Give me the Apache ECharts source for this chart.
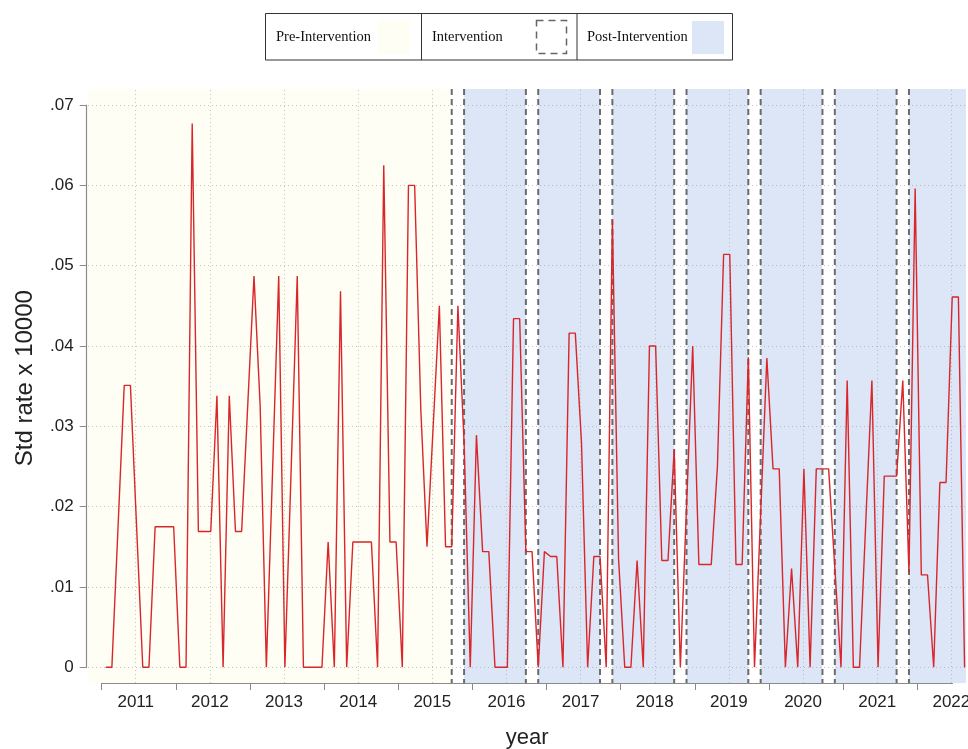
<!DOCTYPE html>
<html><head><meta charset="utf-8">
<script src="https://cdn.jsdelivr.net/npm/echarts@6/dist/echarts.min.js"></script>
<style>html,body{margin:0;padding:0;background:#fff}#c{width:968px;height:749px}</style>
</head><body><div id="c"></div>
<script>
// ---------------- data ----------------
const years = ['2011','2012','2013','2014','2015','2016','2017','2018','2019','2020','2021','2022'];
const yTicks = [0, 0.01, 0.02, 0.03, 0.04, 0.05, 0.06, 0.07];
// monthly standardised rate (x 10000), Jan .. Dec
const rate2011 = [0, 0, 0.0175, 0.0351, 0.0351, 0.0175, 0, 0, 0.0175, 0.0175, 0.0175, 0.0175];
const rate2012 = [0, 0, 0.0677, 0.0169, 0.0169, 0.0169, 0.0338, 0, 0.0338, 0.0169, 0.0169, 0.0328];
const rate2013 = [0.0487, 0.0325, 0, 0.0243, 0.0487, 0, 0.0243, 0.0487, 0, 0, 0, 0];
const rate2014 = [0.0156, 0, 0.0468, 0, 0.0156, 0.0156, 0.0156, 0.0156, 0, 0.0625, 0.0156, 0.0156];
const rate2015 = [0, 0.0600, 0.0600, 0.032, 0.0150, 0.030, 0.0450, 0.0150, 0.0150, 0.0450, 0.028, 0];
const rate2016 = [0.0289, 0.0144, 0.0144, 0, 0, 0, 0.0434, 0.0434, 0.0144, 0.0144, 0, 0.0144];
const rate2017 = [0.0138, 0.0138, 0, 0.0416, 0.0416, 0.028, 0, 0.0138, 0.0138, 0, 0.0557, 0.0135];
const rate2018 = [0, 0, 0.0133, 0, 0.0400, 0.0400, 0.0133, 0.0133, 0.0271, 0, 0.020, 0.0400];
const rate2019 = [0.0128, 0.0128, 0.0128, 0.025, 0.0514, 0.0514, 0.0128, 0.0128, 0.0386, 0, 0.0192, 0.0385];
const rate2020 = [0.0247, 0.0247, 0, 0.0123, 0, 0.0247, 0, 0.0247, 0.0247, 0.0247, 0.0124, 0];
const rate2021 = [0.0357, 0, 0, 0.0179, 0.0357, 0, 0.0238, 0.0238, 0.0238, 0.0357, 0.0118, 0.0596];
const rate2022 = [0.0115, 0.0115, 0, 0.0230, 0.0230, 0.0461, 0.0461, 0];
// intervention period each year: September (9) to November (11)
const interventionYears = [2015, 2016, 2017, 2018, 2019, 2020, 2021];
const interventionStartMonth = 9;
const interventionEndMonth = 11;
const legendLabels = ['Pre-Intervention', 'Intervention', 'Post-Intervention'];
const yTitle = 'Std rate x 10000';
const xTitle = 'year';

// ---------------- layout ----------------
const FIRST_YEAR = 2011;
const PX_PER_MONTH = 6.179;
const X_MONTH0 = 105.7;          // pixel of Jan 2011
const TICK_OFF = -0.647;         // year tick position (months from Jan)
const LABEL_OFF = 4.86;          // year label position (months from Jan)
const AX = {left: 101.7, right: 952.5, top: 105, bottom: 667.3, yLineX: 86.7, xLineY: 683};
const PLOT = {left: 88, right: 966, top: 89, bottom: 683};
const W = 968, H = 749;
const monthAt = px => (px - X_MONTH0) / PX_PER_MONTH;
const VPP = 0.07 / (AX.bottom - AX.top);
const valAt = py => (AX.bottom - py) * VPP;
const mIndex = (y, m) => (y - FIRST_YEAR) * 12 + (m - 1);

const rates = [].concat(rate2011, rate2012, rate2013, rate2014, rate2015, rate2016,
  rate2017, rate2018, rate2019, rate2020, rate2021, rate2022);
const lineData = rates.map((v, i) => [i, v]);

const PRE_COLOR = '#fffef4';
const POST_COLOR = '#dde6f6';
// bands: [start, end, kind] kind 0 = pre, 1 = post, 2 = intervention gap
const bxMin = monthAt(PLOT.left), bxMax = monthAt(PLOT.right);
const bands = [];
bands.push([bxMin, mIndex(interventionYears[0], interventionStartMonth), 0]);
interventionYears.forEach((y, k) => {
  const s = mIndex(y, interventionStartMonth), e = mIndex(y, interventionEndMonth);
  bands.push([s, e, 2]);
  const next = k + 1 < interventionYears.length ? mIndex(interventionYears[k + 1], interventionStartMonth) : bxMax;
  bands.push([e, next, 1]);
});
const dashLines = [];
interventionYears.forEach(y => {
  dashLines.push(mIndex(y, interventionStartMonth));
  dashLines.push(mIndex(y, interventionEndMonth));
});

const byMin = valAt(PLOT.bottom), byMax = valAt(PLOT.top);
const gridColor = 'rgba(150,150,150,0.55)';
const SANS = '"Liberation Sans", Arial, sans-serif';
const SERIF = '14.5px "Liberation Serif", "Times New Roman", serif';
const AXIS_GRAY = '#8a8a8a';

const chart = echarts.init(document.getElementById('c'), null, {renderer: 'canvas'});
chart.setOption({
  animation: false,
  backgroundColor: '#ffffff',
  grid: [
    // y-axis grid
    {left: AX.yLineX, right: W - AX.right, top: AX.top, bottom: H - AX.bottom, outerBoundsMode: 'none'},
    // x-axis grid
    {left: AX.left, right: W - AX.right, top: AX.top, bottom: H - AX.xLineY, outerBoundsMode: 'none'},
    // plot region
    {left: PLOT.left, right: W - PLOT.right, top: PLOT.top, bottom: H - PLOT.bottom, outerBoundsMode: 'none'}
  ],
  xAxis: [
    {gridIndex: 0, type: 'value', min: 0, max: 1, show: false},
    {
      gridIndex: 1, type: 'value', min: monthAt(AX.left), max: monthAt(AX.right),
      axisLine: {show: true, lineStyle: {color: AXIS_GRAY, width: 1.2}},
      axisTick: {show: true, length: 7, lineStyle: {color: AXIS_GRAY, width: 1},
        customValues: years.map((y, k) => k * 12 + TICK_OFF)},
      axisLabel: {show: true, margin: 11, color: '#222', fontSize: 17, fontFamily: SANS,
        customValues: years.map((y, k) => k * 12 + LABEL_OFF),
        formatter: v => years[Math.round((v - LABEL_OFF) / 12)] || ''},
      splitLine: {show: false},
      name: xTitle, nameLocation: 'middle', nameGap: 44,
      nameTextStyle: {fontSize: 22, color: '#222', fontFamily: SANS}
    },
    {gridIndex: 2, type: 'value', min: bxMin, max: bxMax, show: false}
  ],
  yAxis: [
    {
      gridIndex: 0, type: 'value', min: 0, max: 0.07, interval: 0.01,
      axisLine: {show: true, lineStyle: {color: AXIS_GRAY, width: 1.2}},
      axisTick: {show: true, length: 7, lineStyle: {color: AXIS_GRAY}},
      axisLabel: {margin: 13, color: '#222', fontSize: 17, fontFamily: SANS,
        formatter: v => v === 0 ? '0' : v.toFixed(2).replace(/^0/, '')},
      splitLine: {show: false},
      name: yTitle, nameLocation: 'middle', nameGap: 49, nameRotate: 90,
      nameTextStyle: {fontSize: 24, color: '#222', fontFamily: SANS, padding: [0, 0, 0, 16]}
    },
    {gridIndex: 1, type: 'value', min: 0, max: 1, show: false},
    {gridIndex: 2, type: 'value', min: byMin, max: byMax, show: false}
  ],
  series: [
    {
      type: 'custom', xAxisIndex: 2, yAxisIndex: 2, z: 0, silent: true,
      data: bands,
      renderItem: (params, api) => {
        const s = api.coord([api.value(0), byMax]);
        const e = api.coord([api.value(1), byMin]);
        const kind = api.value(2);
        return {type: 'rect', shape: {x: s[0], y: s[1], width: e[0] - s[0], height: e[1] - s[1]},
          style: {fill: kind === 0 ? PRE_COLOR : kind === 1 ? POST_COLOR : '#ffffff'}};
      },
      markLine: {
        silent: true, symbol: 'none', label: {show: false}, z: 1, animation: false,
        data: [].concat(
          yTicks.map(v => ({yAxis: v, lineStyle: {color: gridColor, type: [1, 3], width: 1}})),
          years.map((y, k) => ({xAxis: k * 12 + LABEL_OFF, lineStyle: {color: gridColor, type: [1, 3], width: 1}}))
        )
      }
    },
    {
      type: 'custom', xAxisIndex: 2, yAxisIndex: 2, z: 3, silent: true,
      data: dashLines.map(m => [m]),
      renderItem: (params, api) => {
        const a = api.coord([api.value(0), byMax]);
        const b = api.coord([api.value(0), byMin]);
        return {type: 'line', shape: {x1: a[0], y1: a[1], x2: b[0], y2: b[1]},
          style: {stroke: '#6b6b6b', lineWidth: 2, lineDash: [6, 4]}};
      }
    },
    {
      type: 'line', xAxisIndex: 2, yAxisIndex: 2, z: 5, data: lineData,
      showSymbol: false, symbol: 'none', clip: false,
      lineStyle: {color: '#d8262b', width: 1.4}
    }
  ],
  graphic: [
    {type: 'rect', shape: {x: 265.5, y: 13.5, width: 467, height: 46.5}, style: {fill: '#fff', stroke: '#333', lineWidth: 1}},
    {type: 'line', shape: {x1: 421.5, y1: 13.5, x2: 421.5, y2: 60}, style: {stroke: '#333', lineWidth: 1}},
    {type: 'line', shape: {x1: 577, y1: 13.5, x2: 577, y2: 60}, style: {stroke: '#333', lineWidth: 1}},
    {type: 'text', x: 276, y: 37, style: {text: legendLabels[0], fill: '#111', font: SERIF, verticalAlign: 'middle'}},
    {type: 'rect', shape: {x: 378, y: 20, width: 32, height: 34}, style: {fill: PRE_COLOR}},
    {type: 'text', x: 432, y: 37, style: {text: legendLabels[1], fill: '#111', font: SERIF, verticalAlign: 'middle'}},
    {type: 'rect', shape: {x: 536.5, y: 20.5, width: 30, height: 33}, style: {fill: 'none', stroke: '#666', lineWidth: 1.5, lineDash: [7, 5]}},
    {type: 'text', x: 587, y: 37, style: {text: legendLabels[2], fill: '#111', font: SERIF, verticalAlign: 'middle'}},
    {type: 'rect', shape: {x: 692, y: 21, width: 32, height: 33}, style: {fill: POST_COLOR}}
  ]
});
</script></body></html>
